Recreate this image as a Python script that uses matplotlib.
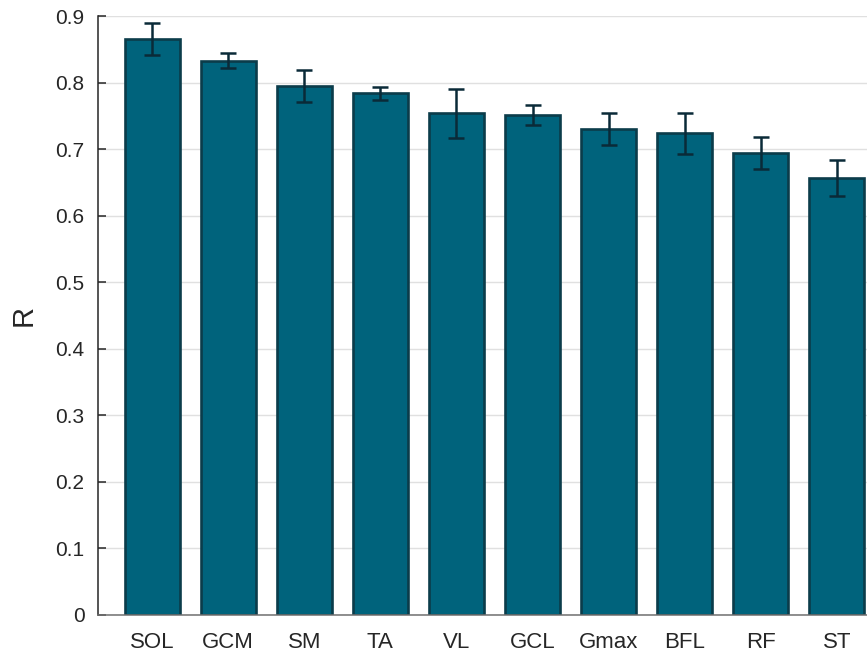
import matplotlib
matplotlib.use("Agg")
import matplotlib.pyplot as plt
import numpy as np

plt.rcParams['font.family'] = ['Liberation Sans', 'DejaVu Sans']

categories = ["SOL", "GCM", "SM", "TA", "VL", "GCL", "Gmax", "BFL", "RF", "ST"]
r_values = [0.865, 0.833, 0.795, 0.784, 0.754, 0.751, 0.730, 0.724, 0.694, 0.656]
r_errors = [0.024, 0.011, 0.024, 0.010, 0.037, 0.015, 0.024, 0.031, 0.024, 0.027]
y_ticks = [0, 0.1, 0.2, 0.3, 0.4, 0.5, 0.6, 0.7, 0.8, 0.9]

fig = plt.figure(figsize=(8.67, 6.55), dpi=100)
ax = fig.add_axes([98.3 / 867, 40 / 655, 792.4 / 867, 599 / 655])

x = np.arange(len(categories))
ax.bar(x, r_values, width=0.72, color="#00637c", edgecolor="#0b3c4a",
       linewidth=1.9, zorder=2)
ax.errorbar(x, r_values, yerr=r_errors, fmt="none", ecolor="#0a2a38",
            elinewidth=1.8, capsize=5.5, capthick=1.8, zorder=3)

ax.set_xlim(-0.709, 9.709)
ax.set_ylim(0, 0.9)
ax.set_yticks(y_ticks)
ax.set_yticklabels([f"{v:g}" for v in y_ticks])
ax.set_xticks(x)
ax.set_xticklabels(categories)

ax.yaxis.grid(True, color="#e0e0e0", linewidth=1.0, zorder=0)
ax.set_axisbelow(True)

for side in ("top", "right"):
    ax.spines[side].set_visible(False)
ax.spines["left"].set_color("#262626")
ax.spines["left"].set_linewidth(1.1)
ax.spines["bottom"].set_color("#707070")
ax.spines["bottom"].set_linewidth(1.1)

ax.tick_params(axis="y", direction="in", length=6, width=1.1,
               color="#262626", labelsize=15, labelcolor="#262626", pad=10)
ax.tick_params(axis="x", length=0, labelsize=16, labelcolor="#262626", pad=12)

ax.set_ylabel("R", fontsize=21, color="#262626", labelpad=13)

fig.savefig("out.png", dpi=100)
